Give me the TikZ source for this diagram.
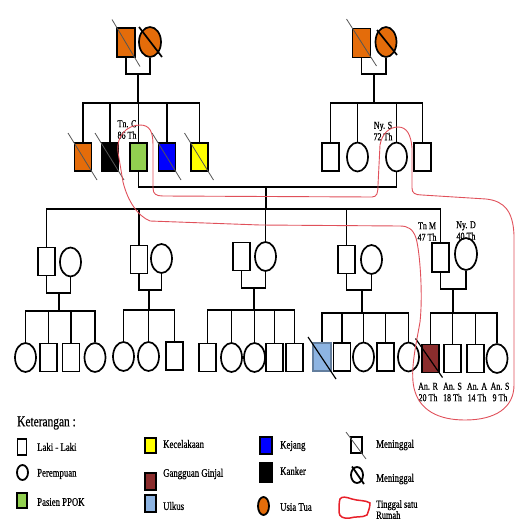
\documentclass[tikz,border=0pt]{standalone}
\usepackage{fontspec}
\setmainfont{Liberation Serif}[FakeStretch=0.76,FakeBold=0.6]
\usetikzlibrary{shapes.geometric}
\definecolor{orng}{HTML}{E46C0A}
\definecolor{ppok}{HTML}{92D050}
\definecolor{kej}{HTML}{0000FF}
\definecolor{kec}{HTML}{FFFF00}
\definecolor{ginjal}{HTML}{8B2D2D}
\definecolor{ulkus}{HTML}{8DB4E2}
\definecolor{rumah}{HTML}{E0505A}
\definecolor{rumahleg}{HTML}{E8202A}
\definecolor{slashgray}{HTML}{555555}
\begin{document}
\begin{tikzpicture}[x=1pt,y=-1pt,
  male/.style={draw, rectangle, line width=1.7pt, minimum width=17pt, minimum height=28pt, inner sep=0pt, fill=white},
  female/.style={draw, ellipse, line width=1.7pt, minimum width=21pt, minimum height=29pt, inner sep=0pt, fill=white},
  link/.style={line width=1.8pt},
  dslash/.style={line width=0.8pt, draw=slashgray},
  cslash/.style={line width=1.7pt},
  lbl/.style={font=\fontsize{10.5}{11.5}\selectfont, inner sep=0pt, align=center},
  leg/.style={font=\fontsize{11.5}{11}\selectfont, inner sep=0pt, anchor=west, align=left},
  legbox/.style={draw, rectangle, line width=1.8pt, inner sep=0pt},
  rloop/.style={draw=rumah, line width=0.9pt}
]
\useasboundingbox (0,0) rectangle (516,522);

% ---------- generation 1 ----------
\node[male, fill=orng, minimum width=18pt, minimum height=29pt] (gf1) at (126,42.5) {};
\node[female, fill=orng, minimum width=22pt, minimum height=30pt] (gm1) at (150,42) {};
\node[male, fill=orng, minimum width=18pt, minimum height=29pt] (gf2) at (361.5,43) {};
\node[female, fill=orng, minimum width=21pt, minimum height=30pt] (gm2) at (386,42) {};
\coordinate (j1) at (138,74);
\coordinate (j2) at (374,74);
\draw[link] (gf1.south) |- (j1) -| (gm1.south);
\draw[link] (gf2.south) |- (j2) -| (gm2.south);
\draw[dslash] ([shift={(-14,-23)}]gf1.center) -- ([shift={(14,24)}]gf1.center);
\draw[cslash] ([shift={(-11,-15)}]gm1.center) -- ([shift={(12,15)}]gm1.center);
\draw[dslash] ([shift={(-15,-24)}]gf2.center) -- ([shift={(15,23)}]gf2.center);
\draw[cslash] ([shift={(-9,-12)}]gm2.center) -- ([shift={(11,13)}]gm2.center);

% ---------- generation 2 ----------
\node[male, fill=orng] (a1) at (83,157) {};
\node[male, fill=black] (a2) at (110,157) {};
\node[male, fill=ppok] (a3) at (138.5,157) {};
\node[male, fill=kej] (a4) at (167,157) {};
\node[male, fill=kec] (a5) at (199.5,157) {};
\node[male] (b1) at (330.5,157) {};
\node[female] (b2) at (357.5,157) {};
\node[female] (b3) at (396.5,157) {};
\node[male] (b4) at (422.5,157) {};
\coordinate (sb1) at (138,103);
\coordinate (sb2) at (374,103);
\draw[link] (j1) -- (sb1);
\draw[link] (j2) -- (sb2);
\foreach \c in {a1,a2,a3,a4,a5} \draw[link] (sb1) -| (\c.north);
\foreach \c in {b1,b2,b3,b4} \draw[link] (sb2) -| (\c.north);
\foreach \c in {a1,a2,a4,a5} \draw[dslash] ([shift={(-15,-24)}]\c.center) -- ([shift={(14,23)}]\c.center);
\node[lbl] (lc) at (127,129.5) {Tn. C\\86 Th};
\node[lbl] (ls) at (383,131) {Ny. S\\72 Th};

% marriage Tn. C -- Ny. S
\coordinate (j3) at (266,187);
\draw[link] (a3.south) |- (j3) -| (b3.south);
\coordinate (sb3) at (266,209);
\draw[link] (j3) -- (sb3);

% ---------- generation 3 ----------
\node[male] (s1) at (46.5,261.5) {};
\node[female] (w1) at (70.5,262) {};
\node[male] (s2) at (139,259.5) {};
\node[female] (w2) at (161.5,258.5) {};
\node[male] (s3) at (241.5,256.5) {};
\node[female] (w3) at (265.5,256.5) {};
\node[male] (s4) at (346.5,259.5) {};
\node[female] (w4) at (371.5,259.5) {};
\node[male, minimum height=29pt] (s5) at (440.5,257.5) {};
\node[female, minimum width=22pt, minimum height=32pt] (w5) at (466,254) {};
\foreach \c in {s1,s2,w3,s4,s5} \draw[link] (sb3) -| (\c.north);
\node[lbl] (lm) at (427,231.5) {Tn M\\47 Th};
\node[lbl] (ld) at (466,230.5) {Ny. D\\40 Th};

\coordinate (m1) at (59,293);
\coordinate (m2) at (149,290);
\coordinate (m3) at (254,288);
\coordinate (m4) at (362,290);
\coordinate (m5) at (453,289);
\draw[link] (s1.south) |- (m1) -| (w1.south);
\draw[link] (s2.south) |- (m2) -| (w2.south);
\draw[link] (s3.south) |- (m3) -| (w3.south);
\draw[link] (s4.south) |- (m4) -| (w4.south);
\draw[link] (s5.south) |- (m5) -| (w5.south);
\coordinate (k1) at (59,311);
\coordinate (k2) at (149,310);
\coordinate (k3) at (254,310);
\coordinate (k4) at (362,313);
\coordinate (k5) at (453,313);
\foreach \i in {1,...,5} \draw[link] (m\i) -- (k\i);

% ---------- generation 4 ----------
\node[female] (c11) at (25.5,357.5) {};
\node[male] (c12) at (48.5,357.5) {};
\node[male] (c13) at (71,357.5) {};
\node[female] (c14) at (95,357.5) {};
\node[female] (c21) at (123.5,356.5) {};
\node[female] (c22) at (148.5,356.5) {};
\node[male] (c23) at (174.5,356) {};
\node[male] (c31) at (207.5,357.5) {};
\node[female] (c32) at (231.5,357.5) {};
\node[female] (c33) at (254.5,357.5) {};
\node[male] (c34) at (274.5,357.5) {};
\node[male] (c35) at (294.5,357.5) {};
\node[male, fill=ulkus, draw=ulkus!70!black, minimum width=18pt] (c41) at (322,357) {};
\node[male] (c42) at (342,357) {};
\node[female] (c43) at (363.5,357) {};
\node[male] (c44) at (385.5,357) {};
\node[female] (c45) at (408.5,357) {};
\node[male, fill=ginjal] (c51) at (430.5,358.5) {};
\node[male] (c52) at (452.5,358.5) {};
\node[male] (c53) at (475.5,358.5) {};
\node[female] (c54) at (497,358.5) {};
\foreach \c in {c11,c12,c13,c14} \draw[link] (k1) -| (\c.north);
\foreach \c in {c21,c22,c23} \draw[link] (k2) -| (\c.north);
\foreach \c in {c31,c32,c33,c34,c35} \draw[link] (k3) -| (\c.north);
\foreach \c in {c41,c42,c43,c44,c45} \draw[link] (k4) -| (\c.north);
\foreach \c in {c51,c52,c53,c54} \draw[link] (k5) -| (\c.north);
\draw[line width=1.2pt] ([shift={(-14,-20)}]c41.center) -- ([shift={(14,22)}]c41.center);
\draw[line width=1.2pt] ([shift={(-15,-20)}]c51.center) -- ([shift={(12,19)}]c51.center);

\node[lbl] (n1) at (428,392) {An. R\\20 Th};
\node[lbl] (n2) at (452.5,392) {An. S\\18 Th};
\node[lbl] (n3) at (477,392) {An. A\\14 Th};
\node[lbl] (n4) at (500,392) {An. S\\9 Th};

% ---------- tinggal satu rumah ----------
\draw[rloop] (150,221) .. controls (138,216) and (128,202) .. (123,182)
  -- (118,152) .. controls (116,136) and (127,125) .. (140,125)
  .. controls (150,125) and (153,132) .. (153,145) -- (153,188)
  .. controls (153,194) and (156,196) .. (163,196) -- (372,197)
  .. controls (377,197) and (378,193) .. (378,185) -- (380,145)
  .. controls (382,133) and (390,127) .. (398,127)
  .. controls (407,127) and (411,135) .. (412,148) -- (412,188)
  .. controls (412,193) and (415,195) .. (422,195) -- (486,199)
  .. controls (505,201) and (513,212) .. (514,235) -- (514,385)
  .. controls (514,408) and (495,420) .. (465,420)
  .. controls (438,420) and (419,410) .. (414,388)
  .. controls (410,370) and (416,345) .. (420,322)
  .. controls (423,295) and (420,252) .. (416,238)
  .. controls (413,229) and (408,226) .. (400,226) -- (260,225) -- cycle;

% ---------- legend ----------
\node[font=\fontsize{15}{15}\selectfont, inner sep=0pt, anchor=west] (ket) at (17,423) {Keterangan :};
\node[legbox, minimum width=9pt, minimum height=16pt] (l1) at (22,447) {};
\node[leg] (t1) at (37,447) {Laki - Laki};
\node[draw, ellipse, line width=1.8pt, minimum width=11pt, minimum height=15pt, inner sep=0pt] (l2) at (22.5,472.5) {};
\node[leg] (t2) at (37,474) {Perempuan};
\node[legbox, fill=ppok, minimum width=10pt, minimum height=15pt] (l3) at (22,500.5) {};
\node[leg] (t3) at (37,502) {Pasien PPOK};
\node[legbox, fill=kec, minimum width=11pt, minimum height=15pt] (l4) at (150.5,445.5) {};
\node[leg] (t4) at (163,444) {Kecelakaan};
\node[legbox, fill=ginjal, minimum width=11pt, minimum height=17pt] (l5) at (150.5,481.5) {};
\node[leg] (t5) at (163,474) {Gangguan Ginjal};
\node[legbox, fill=ulkus, minimum width=11pt, minimum height=17pt] (l6) at (150.5,503.5) {};
\node[leg] (t6) at (163,506) {Ulkus};
\node[legbox, fill=kej, minimum width=12pt, minimum height=17pt] (l7) at (266,445.5) {};
\node[leg] (t7) at (280,446) {Kejang};
\node[legbox, fill=black, minimum width=12pt, minimum height=19pt] (l8) at (266,472.5) {};
\node[leg] (t8) at (280,471) {Kanker};
\node[draw, ellipse, line width=1.8pt, fill=orng, minimum width=11pt, minimum height=18pt, inner sep=0pt] (l9) at (263.5,506) {};
\node[leg] (t9) at (280,507) {Usia Tua};
\node[legbox, minimum width=11pt, minimum height=16pt] (l10) at (356.5,445) {};
\draw[dslash] (346,432) -- (366,459);
\node[leg] (t10) at (376,445) {Meninggal};
\node[draw, ellipse, line width=1.8pt, minimum width=12pt, minimum height=16pt, inner sep=0pt] (l11) at (357,475) {};
\draw[line width=1.8pt] (352,466.5) -- (364,484);
\node[leg] (t11) at (376,479) {Meninggal};
\draw[draw=rumahleg, line width=1.5pt] (340,499) .. controls (342,496) and (346,497) .. (352,499)
  .. controls (358,501) and (366,500) .. (370,503) .. controls (370,508) and (368,512) .. (367,515)
  .. controls (362,518) and (356,516) .. (350,518) .. controls (344,519) and (339,517) .. (339,512)
  .. controls (339,507) and (339,502) .. cycle;
\node[leg, font=\fontsize{11}{9.5}\selectfont] (t12) at (376,509.5) {Tinggal satu\\Rumah};
\end{tikzpicture}
\end{document}
